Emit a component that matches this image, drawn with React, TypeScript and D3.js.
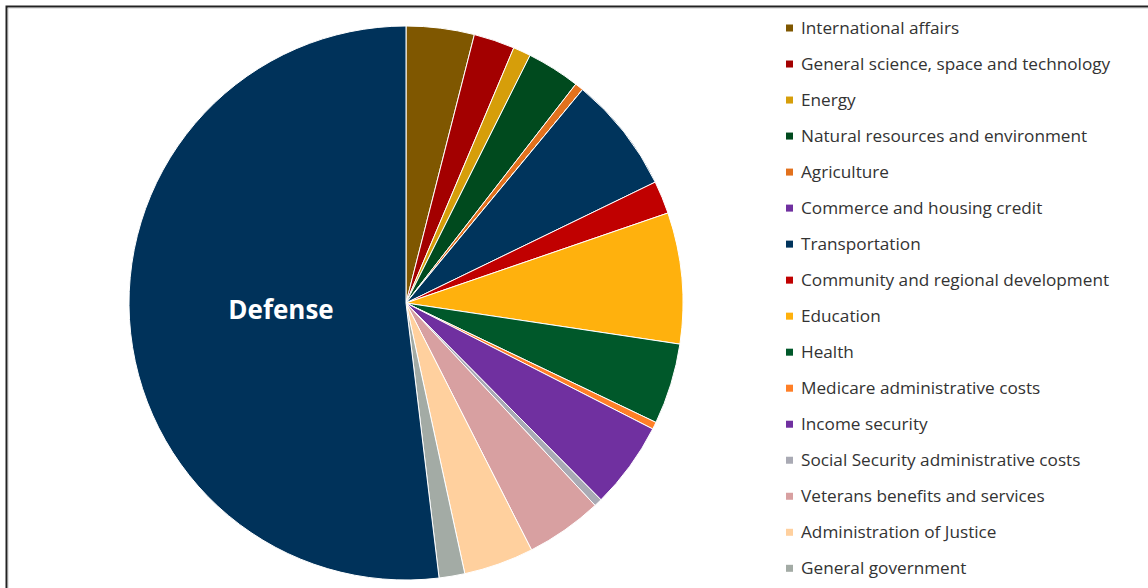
import React from "react";
import * as d3 from "d3";

const categories = [
  "International affairs",
  "General science, space and technology",
  "Energy",
  "Natural resources and environment",
  "Agriculture",
  "Commerce and housing credit",
  "Transportation",
  "Community and regional development",
  "Education",
  "Health",
  "Medicare administrative costs",
  "Income security",
  "Social Security administrative costs",
  "Veterans benefits and services",
  "Administration of Justice",
  "General government",
  "Defense",
];

const values = [3.97, 2.39, 1.03, 3.11, 0.5, 0.0, 6.81, 1.92, 7.64, 4.72, 0.42, 5.06, 0.47, 4.47, 4.08, 1.5, 51.9];

const colors = [
  "#7F5700", "#A30000", "#D69E0A", "#004A1E", "#E2711D", "#7030A0",
  "#00345C", "#C00000", "#FFB10D", "#00582A", "#FF7F27", "#7030A0",
  "#A9AAB4", "#D8A0A1", "#FFD09E", "#A3ABA5", "#00325A",
];

const legendCount = 16;

export default function App() {
  const W = 1148, H = 588;
  const cx = 406, cy = 303, r = 277;
  const pie = d3.pie<number>().value((d) => d).sort(null);
  const arcs = pie(values);
  const arc = d3.arc<d3.PieArcDatum<number>>().innerRadius(0).outerRadius(r);

  const legendY = d3.scaleLinear().domain([0, legendCount - 1]).range([28, 568.3]);
  const font = "'Open Sans', Lato, sans-serif";

  return (
    <svg width={W} height={H} style={{ position: "absolute", left: 0, top: 0, background: "#fff" }}>
      <rect x={0} y={0} width={W} height={H} fill="#fff" />
      <path d={`M6.5,${H} V6.5 H${W}`} fill="none" stroke="#222" strokeWidth={2} />
      <path d={`M8,${H} V8 H${W}`} fill="none" stroke="#999" strokeWidth={1} opacity={0.5} />
      <g transform={`translate(${cx},${cy})`}>
        {arcs.map((a, i) => (
          <path key={i} d={arc(a) || ""} fill={colors[i]} stroke="#fff" strokeWidth={1} strokeLinejoin="round" />
        ))}
        <text x={-125} y={16} fill="#fff" fontFamily={font} fontWeight={700} fontSize={26} textAnchor="middle">
          Defense
        </text>
      </g>
      <g>
        {categories.slice(0, legendCount).map((c, i) => (
          <g key={c} transform={`translate(786,${legendY(i)})`}>
            <rect x={0} y={-3.5} width={7} height={7} fill={colors[i]} />
            <text x={15} y={0} dy="0.35em" fontFamily={font} fontSize={17.2} fill="#333">
              {c}
            </text>
          </g>
        ))}
      </g>
    </svg>
  );
}
